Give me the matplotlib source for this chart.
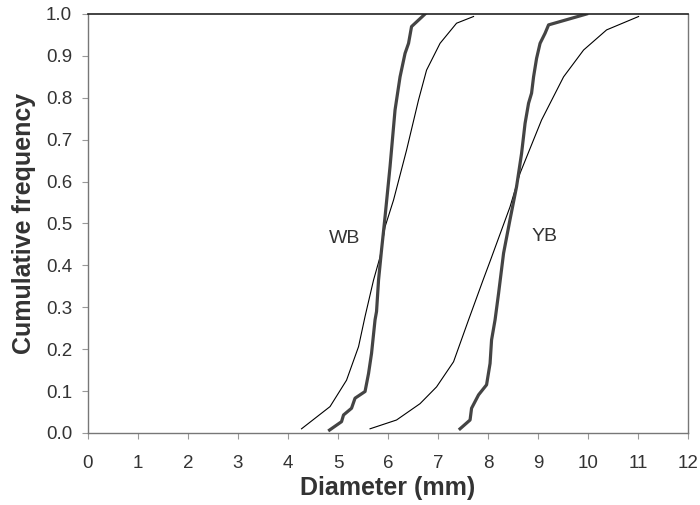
import matplotlib
matplotlib.use("Agg")
import matplotlib.pyplot as plt

# === DATA ===
# WB observed (thick) and fitted (thin)
wb_obs_x = [4.83, 5.07, 5.11, 5.27, 5.34, 5.54, 5.61, 5.67, 5.74, 5.77, 5.81,
            5.87, 5.94, 6.04, 6.14, 6.24, 6.34, 6.41, 6.47, 6.74]
wb_obs_y = [0.007, 0.027, 0.043, 0.059, 0.083, 0.099, 0.142, 0.19, 0.27, 0.29, 0.365,
            0.437, 0.516, 0.636, 0.771, 0.85, 0.906, 0.93, 0.97, 1.0]
wb_fit_x = [4.27, 4.84, 5.17, 5.41, 5.54, 5.71, 5.84, 5.94, 6.11, 6.37, 6.61,
            6.77, 7.04, 7.37, 7.71]
wb_fit_y = [0.01, 0.063, 0.126, 0.206, 0.278, 0.365, 0.42, 0.492, 0.556, 0.675, 0.795,
            0.866, 0.93, 0.978, 0.994]

# YB observed (thick) and fitted (thin)
yb_obs_x = [7.44, 7.64, 7.67, 7.81, 7.97, 8.04, 8.07, 8.14, 8.21, 8.31, 8.44,
            8.57, 8.67, 8.74, 8.81, 8.87, 8.91, 8.97, 9.04, 9.14, 9.21, 9.97]
yb_obs_y = [0.01, 0.031, 0.059, 0.091, 0.115, 0.166, 0.222, 0.27, 0.333, 0.429, 0.51,
            0.588, 0.667, 0.739, 0.787, 0.811, 0.85, 0.894, 0.93, 0.954, 0.974, 1.0]
yb_fit_x = [5.64, 6.17, 6.64, 6.97, 7.31, 7.61, 7.90, 8.05, 8.44, 8.64,
            9.07, 9.51, 9.91, 10.37, 11.01]
yb_fit_y = [0.01, 0.031, 0.07, 0.11, 0.17, 0.27, 0.365, 0.413, 0.54, 0.62,
            0.747, 0.85, 0.914, 0.962, 0.994]

x_ticks = list(range(0, 13))
y_ticks = [i / 10 for i in range(0, 11)]

# === PLOT ===
plt.rcParams['font.family'] = ['Liberation Sans', 'DejaVu Sans']

fig = plt.figure(figsize=(7.0, 5.05), dpi=100)
ax = fig.add_axes([0.1257, 0.1426, 0.8573, 0.8297])

ax.plot(wb_fit_x, wb_fit_y, color='black', lw=0.8)
ax.plot(yb_fit_x, yb_fit_y, color='black', lw=0.8)
ax.plot(wb_obs_x, wb_obs_y, color='#444444', lw=2.3, solid_joinstyle='round')
ax.plot(yb_obs_x, yb_obs_y, color='#444444', lw=2.3, solid_joinstyle='round')

ax.text(5.13, 0.465, 'WB', fontsize=14, color='#333333', ha='center', va='center')
ax.text(9.12, 0.468, 'YB', fontsize=14, color='#333333', ha='center', va='center')

ax.set_xlim(0, 12)
ax.set_ylim(0, 1)
ax.set_xticks(x_ticks)
ax.set_yticks(y_ticks)
ax.set_yticklabels([f"{v:.1f}" for v in y_ticks])
ax.tick_params(direction='out', width=0.8, color='#999999',
               labelsize=13.5, labelcolor='#333333')
ax.tick_params(axis='x', length=4.5, pad=11)
ax.tick_params(axis='y', length=4, pad=7.5)

for side in ['left', 'right', 'bottom']:
    ax.spines[side].set_color('#777777')
    ax.spines[side].set_linewidth(1.0)
ax.spines['top'].set_color('#222222')
ax.spines['top'].set_linewidth(1.2)

ax.set_xlabel('Diameter (mm)', fontsize=18, fontweight='bold', color='#333333', labelpad=3)
ax.set_ylabel('Cumulative frequency', fontsize=18, fontweight='bold', color='#333333', labelpad=7)

fig.savefig('out.png', dpi=100)
